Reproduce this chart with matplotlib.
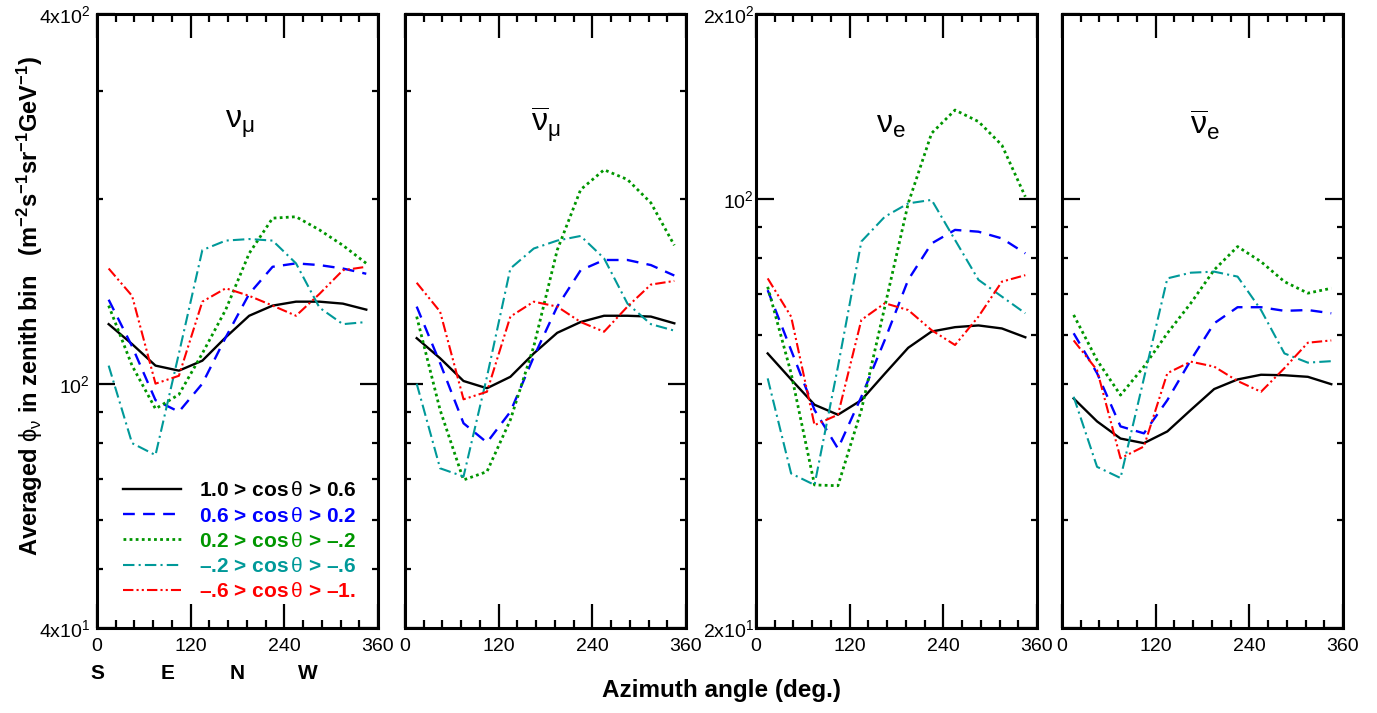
import matplotlib
matplotlib.use("Agg")
import matplotlib.pyplot as plt
from matplotlib.ticker import FixedLocator, FixedFormatter, MultipleLocator, NullFormatter
from matplotlib.transforms import blended_transform_factory

plt.rcParams["font.family"] = ["Liberation Sans", "DejaVu Sans"]
plt.rcParams["mathtext.fontset"] = "custom"
plt.rcParams["mathtext.rm"] = "Liberation Sans"
plt.rcParams["mathtext.it"] = "Liberation Sans:italic"
plt.rcParams["mathtext.bf"] = "Liberation Sans:bold"

# azimuth bin centres (deg)
azimuth = [15, 45, 75, 105, 135, 165, 195, 225, 255, 285, 315, 345]

# nu_mu, one list per zenith bin
numu_b1 = [125, 116, 107, 105, 109, 119, 129, 134, 136, 136, 135, 132]
numu_b2 = [137, 115, 94, 90, 100, 119, 140, 155, 157, 156, 154, 151]
numu_b3 = [134, 107, 91, 96, 112, 132, 163, 186, 187, 178, 168, 157]
numu_b4 = [107, 80, 76.5, 112, 165, 171, 172, 171, 157, 133, 125, 126]
numu_b5 = [154, 139, 100, 103, 136, 143, 139, 134, 129, 140, 153, 155]

# anti nu_mu
numubar_b1 = [118.6, 110, 101, 98.3, 102.6, 112, 121, 126, 129, 129, 128.6, 125.4]
numubar_b2 = [133.5, 108, 86.2, 80.2, 90, 110.6, 133.5, 153, 159, 159, 156, 150]
numubar_b3 = [128.6, 90.6, 69.7, 71.9, 87.3, 115, 165, 207, 223, 215, 197, 168]
numubar_b4 = [100, 72.8, 70.6, 102.6, 154, 166, 171, 174, 160, 135, 125, 122]
numubar_b5 = [146, 131, 94.3, 97, 128.6, 136, 133.5, 126, 121.5, 133.5, 145, 147]

# nu_e
nue_b1 = [56.0, 50.8, 46.2, 44.5, 47.0, 51.9, 57.2, 60.8, 61.8, 62.2, 61.5, 59.5]
nue_b2 = [71.0, 56.7, 45.3, 39.2, 47.6, 58.9, 73.8, 84.6, 89.0, 88.4, 86.2, 81.5]
nue_b3 = [71.9, 52.0, 34.2, 34.1, 45.3, 66.7, 98.3, 127.9, 139.5, 133.6, 122.3, 100.8]
nue_b4 = [51.0, 35.7, 34.2, 53.3, 85.2, 93.5, 98.3, 99.6, 85.7, 73.8, 69.3, 65.1]
nue_b5 = [74.2, 64.3, 42.8, 44.5, 63.5, 67.6, 65.9, 61.1, 57.8, 64.3, 73.3, 75.1]

# anti nu_e
nuebar_b1 = [47.3, 43.4, 40.7, 40.0, 41.8, 45.3, 49.0, 50.8, 51.7, 51.6, 51.3, 49.9]
nuebar_b2 = [60.4, 52.0, 42.6, 41.5, 47.0, 54.6, 62.7, 66.6, 66.6, 65.7, 65.9, 65.1]
nuebar_b3 = [64.7, 54.6, 47.9, 53.3, 60.4, 67.6, 76.6, 83.6, 79.0, 73.3, 70.2, 71.5]
nuebar_b4 = [47.6, 36.6, 35.1, 51.0, 74.2, 75.8, 76.1, 74.7, 65.9, 56.0, 54.1, 54.4]
nuebar_b5 = [58.8, 52.6, 37.8, 39.5, 52.0, 54.3, 53.3, 50.5, 48.5, 53.0, 58.3, 58.8]

bin_labels = [
    r"1.0 > cos$\,\mathrm{\theta}$ > 0.6",
    r"0.6 > cos$\,\mathrm{\theta}$ > 0.2",
    r"0.2 > cos$\,\mathrm{\theta}$ > –.2",
    r"–.2 > cos$\,\mathrm{\theta}$ > –.6",
    r"–.6 > cos$\,\mathrm{\theta}$ > –1.",
]
titles = [r"$\mathrm{\nu}_{\mathrm{\mu}}$", r"$\overline{\mathrm{\nu}}_{\mathrm{\mu}}$",
          r"$\mathrm{\nu}_{\mathrm{e}}$", r"$\overline{\mathrm{\nu}}_{\mathrm{e}}$"]
compass = ["S", "E", "N", "W"]
compass_deg = [0, 90, 180, 270]

colors = ["black", "#0000ff", "#009600", "#009999", "#ff0000"]
styles = ["-", (0, (5, 3.5)), (0, (1, 1.2)), (0, (5.5, 2, 1, 2)), (0, (5, 1.5, 1, 1.5, 1, 1.5))]
widths = [1.7, 1.7, 2.0, 1.5, 1.5]

panels = [
    [numu_b1, numu_b2, numu_b3, numu_b4, numu_b5],
    [numubar_b1, numubar_b2, numubar_b3, numubar_b4, numubar_b5],
    [nue_b1, nue_b2, nue_b3, nue_b4, nue_b5],
    [nuebar_b1, nuebar_b2, nuebar_b3, nuebar_b4, nuebar_b5],
]

fig = plt.figure(figsize=(13.77, 7.13), dpi=100)
lefts = [0.0704, 0.2941, 0.5490, 0.7712]
axes = []
for i, series in enumerate(panels):
    ax = fig.add_axes([lefts[i], 0.1192, 0.2041, 0.8612])
    axes.append(ax)
    for j, y in enumerate(series):
        ax.plot(azimuth, y, color=colors[j], linestyle=styles[j], lw=widths[j],
                label=bin_labels[j])
    ax.set_yscale("log")
    ax.set_xlim(0, 360)
    if i < 2:
        ax.set_ylim(40, 400)
        ymaj = [40, 100, 400]
        ylab = [r"4x10$^\mathrm{1}$", r"10$^\mathrm{2}$", r"4x10$^\mathrm{2}$"]
        ymin = [50, 60, 70, 80, 90, 200, 300]
    else:
        ax.set_ylim(20, 200)
        ymaj = [20, 100, 200]
        ylab = [r"2x10$^\mathrm{1}$", r"10$^\mathrm{2}$", r"2x10$^\mathrm{2}$"]
        ymin = [30, 40, 50, 60, 70, 80, 90]
    ax.yaxis.set_major_locator(FixedLocator(ymaj))
    ax.yaxis.set_minor_locator(FixedLocator(ymin))
    ax.yaxis.set_minor_formatter(NullFormatter())
    if i in (0, 2):
        ax.yaxis.set_major_formatter(FixedFormatter(ylab))
    else:
        ax.yaxis.set_major_formatter(NullFormatter())
    ax.xaxis.set_major_locator(FixedLocator([0, 120, 240, 360]))
    ax.xaxis.set_minor_locator(MultipleLocator(24))
    ax.tick_params(which="both", direction="in", top=True, right=True, width=1.6,
                   labelsize=14)
    ax.tick_params(axis="x", which="major", length=17, pad=7)
    ax.tick_params(axis="x", which="minor", length=6)
    ax.tick_params(axis="y", which="major", length=13, pad=5 if i == 0 else 1.5)
    ax.tick_params(axis="y", which="minor", length=4.5)
    for sp in ax.spines.values():
        sp.set_linewidth(2.2)
    tx = [0.51, 0.5, 0.48, 0.51][i]
    ax.text(tx, 0.82, titles[i], transform=ax.transAxes, ha="center", va="center",
            fontsize=23)

# compass points under first panel
trans = blended_transform_factory(axes[0].transData, axes[0].transAxes)
for lab, d in zip(compass, compass_deg):
    axes[0].text(d, -0.074, lab, transform=trans, ha="center", va="center",
                 fontsize=15, fontweight="bold")

axes[0].legend(loc="upper left", bbox_to_anchor=(0.0925, 0.239), frameon=False,
               prop={"weight": "bold", "size": 15}, handlelength=2.8,
               handletextpad=0.85, labelspacing=0.3, borderpad=0, borderaxespad=0,
               labelcolor="linecolor")

fig.text(0.524, 0.032, "Azimuth angle (deg.)", ha="center", va="center",
         fontsize=17.5, fontweight="bold")
fig.text(0.022, 0.571,
         r"Averaged $\mathrm{\phi}_{\mathrm{\nu}}$ in zenith bin   "
         r"(m$^{\mathbf{-2}}$s$^{\mathbf{-1}}$sr$^{\mathbf{-1}}$GeV$^{\mathbf{-1}}$)",
         rotation=90, ha="center", va="center", fontsize=17, fontweight="bold")

fig.savefig("out.png", dpi=100)
